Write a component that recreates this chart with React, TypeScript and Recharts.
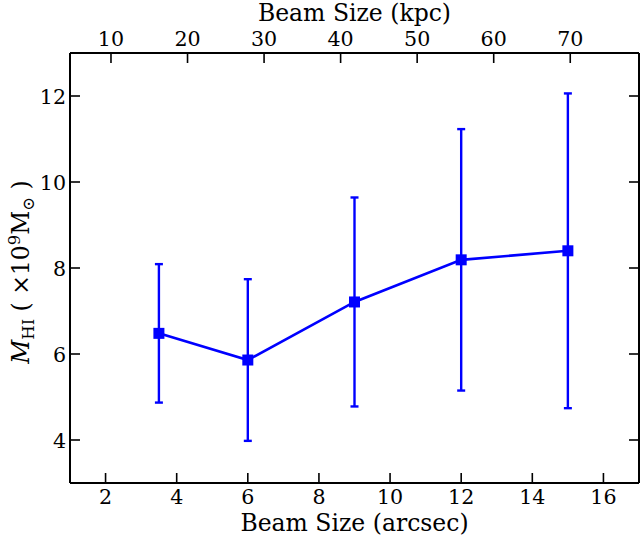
import React from 'react';
import { ComposedChart, Line, XAxis, YAxis, ErrorBar } from 'recharts';

// ---- data ----
const beamArcsec = [3.5, 6, 9, 12, 15];
const massHI = [6.48, 5.86, 7.21, 8.19, 8.4];
const massErr = [1.61, 1.88, 2.43, 3.04, 3.66];
const arcsecTicks = [2, 4, 6, 8, 10, 12, 14, 16];
const kpcTicks = [10, 20, 30, 40, 50, 60, 70];
const massTicks = [4, 6, 8, 10, 12];
const arcsecDomain: [number, number] = [1, 17];
const massDomain: [number, number] = [3, 13];
const KPC_PER_ARCSEC = 4.646;

const data = beamArcsec.map((b, i) => ({
  beam: b,
  kpc: b * KPC_PER_ARCSEC,
  mass: massHI[i],
  err: massErr[i],
}));

// ---- styles ----
const FONT = "'DejaVu Serif', 'Liberation Serif', serif";
const TICK_FS = 20.6;
const TITLE_FS = 23.5;
const TICK_LEN = 10;
const BLUE = '#0000ff';

const BottomTick = (p: any) => {
  const { x, y, payload } = p;
  return (
    <g>
      <line x1={x} x2={x} y1={y} y2={y - TICK_LEN} stroke="#000" strokeWidth={1.6} />
      <text x={x} y={y + 21} textAnchor="middle" fontFamily={FONT} fontSize={TICK_FS} fill="#000">
        {payload.value}
      </text>
    </g>
  );
};

const TopTick = (p: any) => {
  const { x, y, payload } = p;
  return (
    <g>
      <line x1={x} x2={x} y1={y} y2={y + TICK_LEN} stroke="#000" strokeWidth={1.6} />
      <text x={x} y={y - 7.5} textAnchor="middle" fontFamily={FONT} fontSize={TICK_FS} fill="#000">
        {payload.value}
      </text>
    </g>
  );
};

const LeftTick = (p: any) => {
  const { x, y, payload } = p;
  return (
    <g>
      <line x1={x} x2={x + TICK_LEN} y1={y} y2={y} stroke="#000" strokeWidth={1.6} />
      <text x={x - 4} y={y + 7.5} textAnchor="end" fontFamily={FONT} fontSize={TICK_FS} fill="#000">
        {payload.value}
      </text>
    </g>
  );
};

const RightTick = (p: any) => {
  const { x, y } = p;
  return (
    <g>
      <line x1={x} x2={x - TICK_LEN} y1={y} y2={y} stroke="#000" strokeWidth={1.6} />
    </g>
  );
};

const BottomTitle = (p: any) => {
  const vb = p.viewBox || {};
  return (
    <text x={vb.x + vb.width / 2} y={vb.y + 48} textAnchor="middle" fontFamily={FONT} fontSize={TITLE_FS} fill="#000">
      Beam Size (arcsec)
    </text>
  );
};

const TopTitle = (p: any) => {
  const vb = p.viewBox || {};
  return (
    <text x={vb.x + vb.width / 2} y={vb.y + 11} textAnchor="middle" fontFamily={FONT} fontSize={TITLE_FS} fill="#000">
      Beam Size (kpc)
    </text>
  );
};

const LeftTitle = (p: any) => {
  const vb = p.viewBox || {};
  const cx = vb.x + 19;
  const cy = vb.y + vb.height / 2 + 4;
  const small = TITLE_FS * 0.7;
  return (
    <text
      x={cx}
      y={cy}
      transform={`rotate(-90, ${cx}, ${cy})`}
      textAnchor="middle"
      fontFamily={FONT}
      fontSize={TITLE_FS}
      fill="#000"
    >
      <tspan fontStyle="italic">M</tspan>
      <tspan fontSize={small} dy={5}>HI</tspan>
      <tspan dy={-5}>{' ( \u00d710'}</tspan>
      <tspan fontSize={small} dy={-9}>9</tspan>
      <tspan dy={9}>M</tspan>
      <tspan fontSize={small} dy={5}>{'\u2299'}</tspan>
      <tspan dy={-5}>{' )'}</tspan>
    </text>
  );
};

const SquareDot = (p: any) => {
  const { cx, cy } = p;
  if (cx == null || cy == null) return null;
  return <rect key={`d-${cx}`} x={cx - 5.5} y={cy - 5.5} width={11} height={11} fill={BLUE} />;
};

export default function App() {
  return (
    <div style={{ position: 'absolute', left: 0, top: 0, background: '#fff' }}>
      <ComposedChart
        width={640}
        height={541}
        data={data}
        margin={{ top: 10, right: 0, bottom: 8, left: 10 }}
      >
        <XAxis
          xAxisId="bottom"
          dataKey="beam"
          type="number"
          domain={arcsecDomain}
          ticks={arcsecTicks}
          allowDataOverflow
          interval={0}
          orientation="bottom"
          height={50}
          tickSize={0}
          tickMargin={0}
          tickLine={false}
          tick={<BottomTick />}
          axisLine={{ stroke: '#000', strokeWidth: 2 }}
          label={<BottomTitle />}
        />
        <XAxis
          xAxisId="top"
          dataKey="kpc"
          type="number"
          domain={[arcsecDomain[0] * KPC_PER_ARCSEC, arcsecDomain[1] * KPC_PER_ARCSEC]}
          ticks={kpcTicks}
          allowDataOverflow
          interval={0}
          orientation="top"
          height={43}
          tickSize={0}
          tickMargin={0}
          tickLine={false}
          tick={<TopTick />}
          axisLine={{ stroke: '#000', strokeWidth: 2 }}
          label={<TopTitle />}
        />
        <YAxis
          yAxisId="left"
          type="number"
          domain={massDomain}
          ticks={massTicks}
          allowDataOverflow
          interval={0}
          orientation="left"
          width={60}
          tickSize={0}
          tickMargin={0}
          tickLine={false}
          tick={<LeftTick />}
          axisLine={{ stroke: '#000', strokeWidth: 2 }}
          label={<LeftTitle />}
        />
        <YAxis
          yAxisId="right"
          type="number"
          domain={massDomain}
          ticks={massTicks}
          allowDataOverflow
          interval={0}
          orientation="right"
          width={1}
          tickSize={0}
          tickMargin={0}
          tickLine={false}
          tick={<RightTick />}
          axisLine={{ stroke: '#000', strokeWidth: 2 }}
        />
        {/* invisible series that links the top (kpc) axis to the data */}
        <Line
          xAxisId="top"
          yAxisId="right"
          dataKey="mass"
          stroke="none"
          dot={false}
          activeDot={false}
          legendType="none"
          isAnimationActive={false}
        />
        <Line
          xAxisId="bottom"
          yAxisId="left"
          dataKey="mass"
          stroke={BLUE}
          strokeWidth={2.6}
          dot={<SquareDot />}
          activeDot={false}
          isAnimationActive={false}
        >
          <ErrorBar dataKey="err" width={4} stroke={BLUE} strokeWidth={2.4} direction="y" isAnimationActive={false} />
        </Line>
      </ComposedChart>
    </div>
  );
}
